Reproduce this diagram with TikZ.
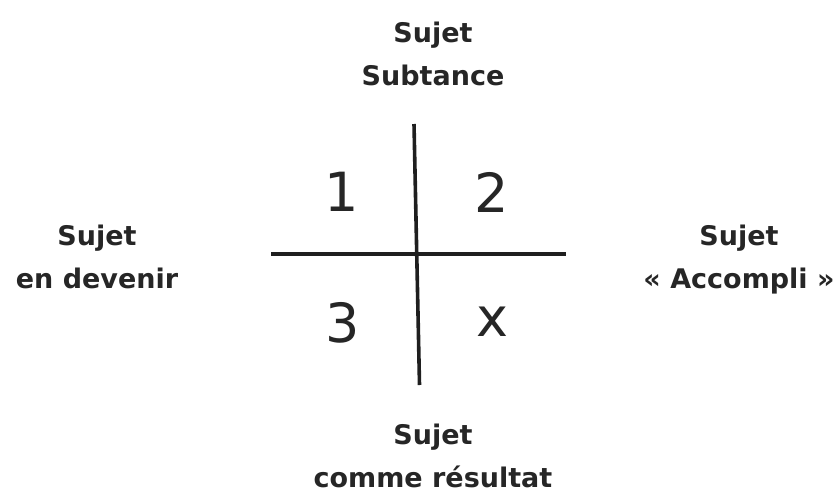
\documentclass[tikz,border=0pt]{standalone}
\usepackage{fontspec}
\setmainfont{DejaVu Sans}
\begin{document}
\begin{tikzpicture}[x=1pt,y=-1pt,
  lbl/.style={font=\bfseries\fontsize{27}{43}\selectfont, align=center, text=black!85, inner sep=0pt, anchor=base},
  num/.style={font=\fontsize{54}{54}\selectfont, text=black!85, inner sep=0pt},
  axis/.style={line width=3.6pt, black!88}]
\useasboundingbox (0,0) rectangle (840,493);
\coordinate (vt) at (414,124);
\coordinate (vb) at (419.5,385);
\coordinate (hl) at (271,254);
\coordinate (hr) at (566,254);
\draw[axis] (vt) -- (vb);
\draw[axis] (hl) -- (hr);
\node[num] (n1) at (342,192) {1};
\node[num] (n2) at (492,192) {2};
\node[num] (n3) at (343,323) {3};
\node[num] (nx) at (492,322) {x};
\node[lbl] (top) at (433,85) {Sujet\\Subtance};
\node[lbl] (left) at (97,288) {Sujet\\en devenir};
\node[lbl] (right) at (739,288) {Sujet\\« Accompli »};
\node[lbl] (bot) at (433,487) {Sujet\\comme résultat};
\end{tikzpicture}
\end{document}
